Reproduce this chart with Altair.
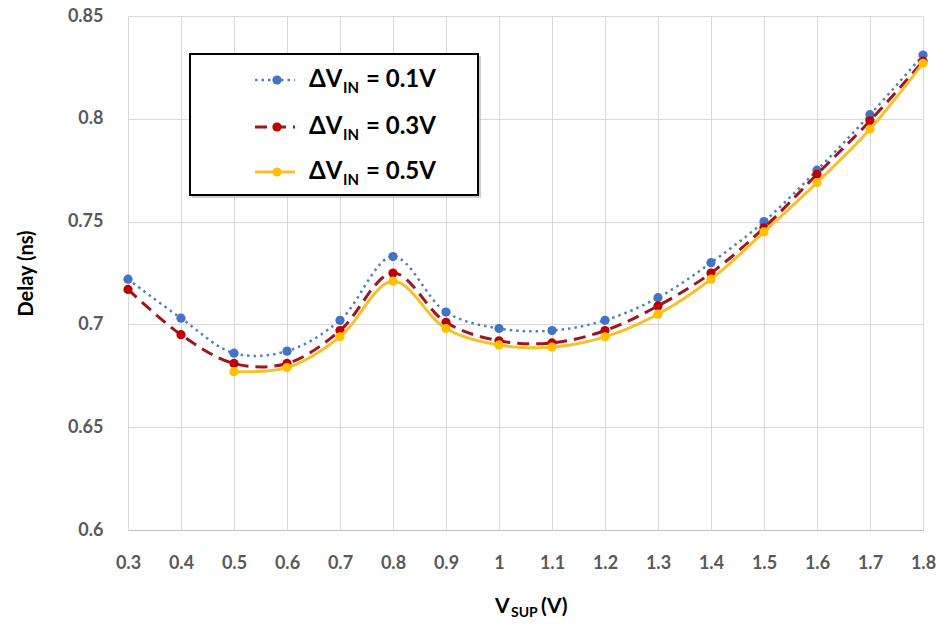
import altair as alt
import pandas as pd

# ---- data ----
vsup = [0.3, 0.4, 0.5, 0.6, 0.7, 0.8, 0.9, 1.0, 1.1, 1.2, 1.3, 1.4, 1.5, 1.6, 1.7, 1.8]
delay_01 = [0.722, 0.703, 0.686, 0.687, 0.702, 0.733, 0.706, 0.698, 0.697, 0.702, 0.713, 0.730, 0.750, 0.775, 0.802, 0.831]
delay_03 = [0.717, 0.695, 0.681, 0.681, 0.697, 0.725, 0.701, 0.692, 0.691, 0.697, 0.709, 0.725, 0.747, 0.773, 0.799, 0.828]
delay_05 = [None, None, 0.677, 0.679, 0.694, 0.721, 0.698, 0.690, 0.689, 0.694, 0.705, 0.722, 0.745, 0.769, 0.795, 0.827]
series_keys = ["0.1V", "0.3V", "0.5V"]
x_ticks = [0.3, 0.4, 0.5, 0.6, 0.7, 0.8, 0.9, 1.0, 1.1, 1.2, 1.3, 1.4, 1.5, 1.6, 1.7, 1.8]
y_ticks = [0.6, 0.65, 0.7, 0.75, 0.8, 0.85]

rows = []
for key, vals in zip(series_keys, [delay_01, delay_03, delay_05]):
    for v, d in zip(vsup, vals):
        if d is not None:
            rows.append({"vsup": v, "delay": d, "series": key})
df = pd.DataFrame(rows)

FONT = "Lato"
W, H = 795, 514

styles = {
    "0.1V": dict(line="#4F81BD", point="#4472C4", dash=[2.5, 4], width=2.5),
    "0.3V": dict(line="#A0141E", point="#C00000", dash=[12, 7], width=3),
    "0.5V": dict(line="#F5C02A", point="#FFC000", dash=[1, 0], width=3),
}

x_enc = alt.X("vsup:Q",
              scale=alt.Scale(domain=[0.3, 1.8], nice=False, zero=False),
              axis=alt.Axis(values=x_ticks, format="~g", title=None, grid=True,
                            gridColor="#D9D9D9", ticks=False, domainColor="#BFBFBF",
                            labelFlush=False, labelBound=False,
                            labelFont=FONT, labelFontSize=18, labelFontWeight="bold",
                            labelColor="#595959", labelPadding=24, labelBaseline="top"))
y_enc = alt.Y("delay:Q",
              scale=alt.Scale(domain=[0.6, 0.85], nice=False, zero=False),
              axis=alt.Axis(values=y_ticks, format="~g", title="Delay (ns)", grid=True,
                            gridColor="#D9D9D9", ticks=False, domain=False,
                            labelFlush=False, labelBound=False,
                            labelFont=FONT, labelFontSize=18, labelFontWeight="bold",
                            labelColor="#595959", labelPadding=25,
                            titleFont=FONT, titleFontSize=20, titleFontWeight="bold",
                            titleColor="#000000", titleX=-102, titleY=H / 2,
                            titleAlign="center", titleBaseline="middle", titleAngle=-90))

layers = []
for key in series_keys:
    s = styles[key]
    base = alt.Chart(df).transform_filter(alt.datum.series == key)
    layers.append(base.mark_line(interpolate="catmull-rom", color=s["line"],
                                 strokeDash=s["dash"], strokeWidth=s["width"])
                  .encode(x=x_enc, y=y_enc))
    layers.append(base.mark_point(filled=True, opacity=1, size=85, color=s["point"])
                  .encode(x=x_enc, y=y_enc))

one = pd.DataFrame({"k": [0]})

# legend box (with slight shadow)
layers.append(alt.Chart(one).mark_rect(fill="#9E9E9E", opacity=0.5).encode(
    x=alt.value(64), x2=alt.value(353), y=alt.value(40), y2=alt.value(182)))
layers.append(alt.Chart(one).mark_rect(fill="white", stroke="black", strokeWidth=2).encode(
    x=alt.value(62), x2=alt.value(350), y=alt.value(38), y2=alt.value(179)))

row_y = [64, 111, 156]
for key, ry in zip(series_keys, row_y):
    s = styles[key]
    layers.append(alt.Chart(one).mark_rule(color=s["line"], strokeDash=s["dash"],
                                           strokeWidth=s["width"]).encode(
        x=alt.value(127), x2=alt.value(167), y=alt.value(ry)))
    layers.append(alt.Chart(one).mark_point(filled=True, opacity=1, size=85,
                                            color=s["point"]).encode(
        x=alt.value(149), y=alt.value(ry)))
    layers.append(alt.Chart(one).mark_text(font=FONT, fontSize=24, fontWeight="bold",
                                           align="left", baseline="middle", color="#000").encode(
        x=alt.value(181), y=alt.value(ry), text=alt.value("ΔV")))
    layers.append(alt.Chart(one).mark_text(font=FONT, fontSize=15, fontWeight="bold",
                                           align="left", baseline="middle", color="#000").encode(
        x=alt.value(215), y=alt.value(ry + 8), text=alt.value("IN")))
    layers.append(alt.Chart(one).mark_text(font=FONT, fontSize=24, fontWeight="bold",
                                           align="left", baseline="middle", color="#000").encode(
        x=alt.value(238), y=alt.value(ry), text=alt.value("= " + key)))

# x axis title with subscript
layers.append(alt.Chart(one).mark_text(font=FONT, fontSize=21, fontWeight="bold",
                                       align="left", baseline="alphabetic", color="#000").encode(
    x=alt.value(367), y=alt.value(597), text=alt.value("V")))
layers.append(alt.Chart(one).mark_text(font=FONT, fontSize=14, fontWeight="bold",
                                       align="left", baseline="alphabetic", color="#000").encode(
    x=alt.value(383), y=alt.value(601), text=alt.value("SUP")))
layers.append(alt.Chart(one).mark_text(font=FONT, fontSize=21, fontWeight="bold",
                                       align="left", baseline="alphabetic", color="#000").encode(
    x=alt.value(413), y=alt.value(597), text=alt.value("(V)")))

chart = alt.layer(*layers).properties(
    width=W, height=H,
    autosize=alt.AutoSizeParams(type="none"),
    padding={"left": 128, "top": 16, "right": 948 - 128 - W, "bottom": 637 - 16 - H},
    background="white",
).configure_view(stroke=None)

chart.save("out.html", embed_options={"renderer": "svg", "actions": False})
